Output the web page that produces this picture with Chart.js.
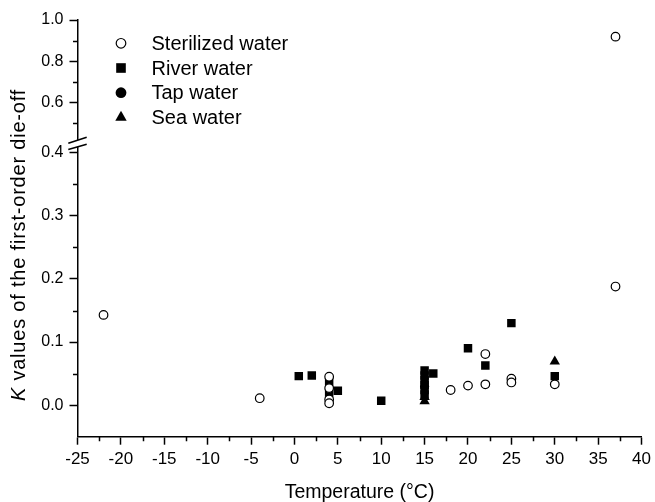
<!DOCTYPE html>
<html>
<head>
<meta charset="utf-8">
<script src="https://cdn.jsdelivr.net/npm/chart.js@4/dist/chart.umd.min.js"></script>
<style>
html,body{margin:0;padding:0;background:#fff;}
canvas{display:block;}
</style>
</head>
<body>
<canvas id="c" width="655" height="502"></canvas>
<script>
// ---------------- data ----------------
const seriesNames = ['Sterilized water', 'River water', 'Tap water', 'Sea water'];

const sterilizedT = [-22, -4, 4, 4, 4, 4, 18, 20, 22, 22, 25, 25, 30, 37, 37];
const sterilizedK = [0.143, 0.011, 0.045, 0.027, 0.009, 0.003, 0.024, 0.031, 0.033, 0.081, 0.042, 0.036, 0.033, 0.188, 0.919];

const riverT = [0.5, 2, 4, 4, 5, 10, 15, 15, 15, 15, 15, 15, 16, 20, 22, 25, 30];
const riverK = [0.046, 0.047, 0.036, 0.019, 0.023, 0.007, 0.055, 0.047, 0.040, 0.032, 0.024, 0.017, 0.050, 0.090, 0.063, 0.130, 0.046];

const tapT = [15];
const tapK = [0.030];

const seaT = [15, 15, 30];
const seaK = [0.013, 0.006, 0.069];

const xTicks = [-25, -20, -15, -10, -5, 0, 5, 10, 15, 20, 25, 30, 35, 40];
const xMinorTicks = [-22.5, -17.5, -12.5, -7.5, -2.5, 2.5, 7.5, 12.5, 17.5, 22.5, 27.5, 32.5, 37.5];
const yTicks = [0, 0.1, 0.2, 0.3, 0.4, 0.6, 0.8, 1.0];
const yTickLabels = ['0.0', '0.1', '0.2', '0.3', '0.4', '0.6', '0.8', '1.0'];
const yMinorTicks = [0.05, 0.15, 0.25, 0.35, 0.5, 0.7, 0.9];

const xTitle = 'Temperature (\u00B0C)';
const yTitleItalic = 'K';
const yTitleRest = ' values of the first-order die-off';

// ---------------- broken y scale ----------------
const BRK_LO = 0.4, BRK_HI = 0.45, BRK_D = 0.0311, UP_K = 0.326;
function fwd(v) {
  if (v <= BRK_LO) return v;
  if (v < BRK_HI) return BRK_LO + (v - BRK_LO) / (BRK_HI - BRK_LO) * BRK_D;
  return BRK_LO + BRK_D + (v - BRK_HI) * UP_K;
}
function inv(d) {
  if (d <= BRK_LO) return d;
  if (d < BRK_LO + BRK_D) return BRK_LO + (d - BRK_LO) / BRK_D * (BRK_HI - BRK_LO);
  return BRK_HI + (d - BRK_LO - BRK_D) / UP_K;
}

class BrokenLinearScale extends Chart.LinearScale {
  static id = 'brokenLinear';
  static defaults = Chart.LinearScale.defaults;
  buildTicks() {
    return yTicks.map(v => ({ value: v }));
  }
  getPixelForValue(value) {
    if (value === null || value === undefined || isNaN(value)) return NaN;
    const a = fwd(this.min), b = fwd(this.max);
    return this.getPixelForDecimal((fwd(value) - a) / (b - a));
  }
  getValueForPixel(pixel) {
    const a = fwd(this.min), b = fwd(this.max);
    return inv(a + this.getDecimalForPixel(pixel) * (b - a));
  }
}
Chart.register(BrokenLinearScale);

// ---------------- helpers ----------------
const FONT = '"Liberation Sans", Arial, Helvetica, sans-serif';
Chart.defaults.font.family = FONT;
Chart.defaults.color = '#000';

function pts(xs, ys) { return xs.map((x, i) => ({ x: x, y: ys[i] })); }

const legendRadius = [4.8, 6.8, 5.4, 6.6];

// ---------------- decoration plugin ----------------
const decoPlugin = {
  id: 'deco',
  afterDraw(chart) {
    const { ctx, chartArea } = chart;
    const xs = chart.scales.x, ys = chart.scales.y;
    ctx.save();
    ctx.strokeStyle = '#000';
    ctx.lineWidth = 1.5;
    ctx.beginPath();
    xMinorTicks.forEach(v => {
      const px = Math.round(xs.getPixelForValue(v)) + 0.5;
      ctx.moveTo(px, chartArea.bottom);
      ctx.lineTo(px, chartArea.bottom + 4.5);
    });
    yMinorTicks.forEach(v => {
      const py = Math.round(ys.getPixelForValue(v)) + 0.5;
      ctx.moveTo(chartArea.left, py);
      ctx.lineTo(chartArea.left - 4.5, py);
    });
    ctx.stroke();

    // axis break
    const pb = ys.getPixelForValue(0.424);
    const L = chartArea.left;
    ctx.fillStyle = '#fff';
    ctx.beginPath();
    ctx.moveTo(L - 3, pb - 2.3);
    ctx.lineTo(L + 3, pb - 4.3);
    ctx.lineTo(L + 3, pb + 2.3);
    ctx.lineTo(L - 3, pb + 4.3);
    ctx.closePath();
    ctx.fill();
    ctx.lineWidth = 1.6;
    ctx.beginPath();
    ctx.moveTo(L - 9.2, pb - 0.2);
    ctx.lineTo(L + 9.2, pb - 6.2);
    ctx.moveTo(L - 9.2, pb + 6.2);
    ctx.lineTo(L + 9.2, pb + 1.0);
    ctx.stroke();

    // y axis title with italic K
    ctx.fillStyle = '#000';
    ctx.translate(25, 245);
    ctx.rotate(-Math.PI / 2);
    ctx.textBaseline = 'alphabetic';
    ctx.textAlign = 'left';
    try { ctx.letterSpacing = '0.8px'; } catch (e) {}
    ctx.font = 'italic 20px ' + FONT;
    const w1 = ctx.measureText(yTitleItalic).width;
    ctx.font = '20px ' + FONT;
    const w2 = ctx.measureText(yTitleRest).width;
    const start = -(w1 + w2) / 2;
    ctx.font = 'italic 20px ' + FONT;
    ctx.fillText(yTitleItalic, start, 0);
    ctx.font = '20px ' + FONT;
    ctx.fillText(yTitleRest, start + w1, 0);
    ctx.restore();

    // legend
    ctx.save();
    chart.data.datasets.forEach((ds, i) => {
      const baseY = 50 + i * 24.7;
      const my = baseY - 6.7;
      ctx.fillStyle = ds.backgroundColor;
      ctx.strokeStyle = ds.borderColor;
      ctx.lineWidth = ds.borderWidth;
      Chart.helpers.drawPoint(ctx, {
        pointStyle: ds.pointStyle,
        radius: legendRadius[i],
        borderWidth: ds.borderWidth,
        rotation: 0
      }, 121, my);
      ctx.fillStyle = '#000';
      ctx.font = '20px ' + FONT;
      ctx.textBaseline = 'alphabetic';
      ctx.textAlign = 'left';
      ctx.fillText(ds.label, 151.5, baseY);
    });
    ctx.restore();
  }
};

// ---------------- chart ----------------
new Chart(document.getElementById('c'), {
  type: 'scatter',
  data: {
    datasets: [
      {
        label: seriesNames[0],
        data: pts(sterilizedT, sterilizedK),
        pointStyle: 'circle',
        pointRadius: 4.3,
        backgroundColor: '#fff',
        borderColor: '#000',
        borderWidth: 1.2
      },
      {
        label: seriesNames[1],
        data: pts(riverT, riverK),
        pointStyle: 'rect',
        pointRadius: 6,
        backgroundColor: '#000',
        borderColor: '#000',
        borderWidth: 0
      },
      {
        label: seriesNames[2],
        data: pts(tapT, tapK),
        pointStyle: 'circle',
        pointRadius: 4.5,
        backgroundColor: '#000',
        borderColor: '#000',
        borderWidth: 0
      },
      {
        label: seriesNames[3],
        data: pts(seaT, seaK),
        pointStyle: 'triangle',
        pointRadius: 6,
        backgroundColor: '#000',
        borderColor: '#000',
        borderWidth: 0
      }
    ]
  },
  options: {
    responsive: false,
    devicePixelRatio: 1,
    animation: false,
    events: [],
    layout: { padding: { left: 0, top: 20, right: 11, bottom: 0 } },
    plugins: {
      legend: { display: false },
      tooltip: { enabled: false },
      title: { display: false }
    },
    scales: {
      x: {
        type: 'linear',
        min: -25,
        max: 40,
        afterBuildTicks: s => { s.ticks = xTicks.map(v => ({ value: v })); },
        afterFit: s => { s.height = 65.3; },
        grid: {
          display: true,
          drawOnChartArea: false,
          drawTicks: true,
          tickLength: 8,
          tickColor: '#000',
          tickWidth: 1.5
        },
        border: { display: true, color: '#000', width: 1.5 },
        ticks: {
          autoSkip: false,
          maxRotation: 0,
          padding: 4,
          color: '#000',
          font: { size: 17 },
          callback: v => String(v)
        },
        title: {
          display: true,
          text: xTitle,
          color: '#000',
          font: { size: 19.5, lineHeight: 1 },
          padding: 0
        }
      },
      y: {
        type: 'brokenLinear',
        min: -0.05,
        max: 1.0,
        afterFit: s => { s.width = 77.5; },
        grid: {
          display: true,
          drawOnChartArea: false,
          drawTicks: true,
          tickLength: 8,
          tickColor: '#000',
          tickWidth: 1.5
        },
        border: { display: true, color: '#000', width: 1.5 },
        ticks: {
          autoSkip: false,
          padding: 6,
          color: '#000',
          font: { size: 16 },
          callback: (v) => {
            const i = yTicks.findIndex(t => Math.abs(t - v) < 1e-9);
            return i >= 0 ? yTickLabels[i] : '';
          }
        },
        title: { display: false }
      }
    }
  },
  plugins: [decoPlugin]
});
</script>
</body>
</html>
